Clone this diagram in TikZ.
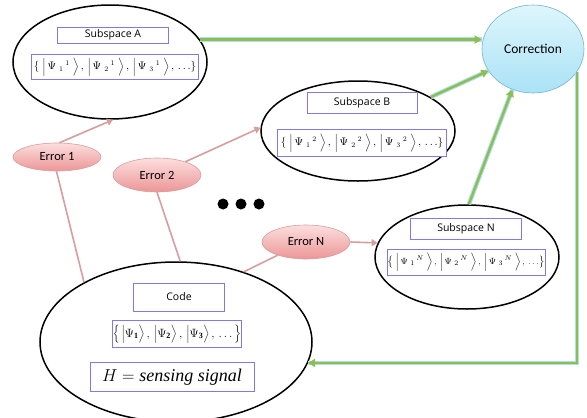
\documentclass[tikz,border=0pt]{standalone}
\usepackage{fontspec}
\setmainfont{Liberation Serif}
\newfontfamily\labelfont{Carlito}
\newfontfamily\boxfont{Open Sans}
\usetikzlibrary{shapes.geometric,arrows.meta}

\definecolor{errpinkTop}{RGB}{252,222,222}
\definecolor{errpinkBot}{RGB}{236,150,150}
\definecolor{errline}{RGB}{214,158,158}
\definecolor{corrTop}{RGB}{222,246,252}
\definecolor{corrBot}{RGB}{170,226,246}
\definecolor{corrline}{RGB}{120,180,200}
\definecolor{flowgreen}{RGB}{140,190,80}
\definecolor{flowglow}{RGB}{175,222,240}
\definecolor{boxline}{RGB}{130,120,230}

\tikzset{
  space/.style={ellipse, draw=black, line width=1.5pt, fill=white, inner sep=0pt},
  errnode/.style={ellipse, draw=errline, line width=0.6pt, top color=errpinkTop,
    bottom color=errpinkBot, inner sep=0pt, font=\labelfont\fontsize{12.5}{14}\selectfont},
  corrnode/.style={ellipse, draw=corrline, line width=0.6pt, top color=corrTop,
    bottom color=corrBot, inner sep=0pt, font=\labelfont\fontsize{13.5}{15}\selectfont},
  labelbox/.style={rectangle, draw=boxline, line width=0.8pt, fill=white, inner sep=0pt,
    font=\boxfont\fontsize{10.5}{12}\selectfont},
  ketbox/.style={rectangle, draw=boxline, line width=0.8pt, fill=white, inner sep=0pt,
    font=\fontsize{10.5}{13}\selectfont},
  errlink/.style={draw=errline, line width=1.6pt},
  errarrow/.style={errlink, -{Triangle[length=6pt,width=7pt]}},
  flow/.style={draw=flowgreen, line width=2.4pt, -{Triangle[length=7pt,width=8pt]},
    preaction={draw=flowglow, line width=4.6pt, -{}}},
  bigdot/.style={circle, fill=black, inner sep=0pt, minimum size=11pt},
}

% one ket of a subspace basis: |Psi_i^k>, index and level written side by side
\newcommand{\subket}[2]{\Bigl|\,\Psi\;{}_{#1}\,{}^{#2}\;\Bigr\rangle\,}
\newcommand{\ketset}[1]{$\bigl\{\;\subket{1}{#1},\,\subket{2}{#1},\,\subket{3}{#1},\,\ldots\bigr\}$}
% one ket of the code basis
\newcommand{\codeket}[1]{\Bigl|\Psi_{\mathbf{#1}}\Bigr\rangle\,}

\begin{document}
\begin{tikzpicture}[x=1pt, y=-1pt]
\useasboundingbox (0,0) rectangle (587,418);
\fill[white] (0,0) rectangle (587,418);

\begin{scope}
\clip (0,0) rectangle (587,418);
% code space
\node[space, minimum width=272pt, minimum height=160pt] (code) at (176,342) {};
\end{scope}
\node[labelbox, minimum width=91pt, minimum height=28pt] (codelbl) at (179,297) {Code};
\node[ketbox, minimum width=129pt, minimum height=27pt, font=\fontsize{11.5}{14}\selectfont] (codeket) at (177,334)
  {$\Bigl\{\,\codeket{1},\,\codeket{2},\,\codeket{3},\,\ldots\,\Bigr\}$};
\node[ketbox, minimum width=164pt, minimum height=29pt, font=\fontsize{18}{20}\selectfont] (ham) at (172,377)
  {$H=\mathit{sensing\ signal}$};

% subspaces
\node[space, minimum width=194pt, minimum height=114pt] (subA) at (110,62) {};
\node[labelbox, minimum width=111pt, minimum height=16pt] (lblA) at (113,35) {Subspace A};
\node[ketbox, minimum width=167pt, minimum height=25pt] (ketA) at (115,67) {\ketset{1}};

\node[space, minimum width=194pt, minimum height=100pt] (subB) at (358,131) {};
\node[labelbox, minimum width=110pt, minimum height=21pt] (lblB) at (362,103) {Subspace B};
\node[ketbox, minimum width=169pt, minimum height=27pt] (ketB) at (362,143) {\ketset{2}};

\node[space, minimum width=184pt, minimum height=104pt] (subN) at (467,257) {};
\node[labelbox, minimum width=111pt, minimum height=21pt] (lblN) at (466,229) {Subspace N};
\node[ketbox, minimum width=158pt, minimum height=26pt, font=\fontsize{9.5}{12}\selectfont] (ketN) at (466,262) {\ketset{N}};

% correction
\node[corrnode, minimum width=102pt, minimum height=88pt] (corr) at (533,49) {Correction};

% errors
\node[errnode, minimum width=88pt, minimum height=28pt] (err1) at (57,157) {Error 1};
\node[errnode, minimum width=88pt, minimum height=34pt] (err2) at (157,175) {Error 2};
\node[errnode, minimum width=88pt, minimum height=34pt] (errN) at (306,242) {Error N};

% ellipsis dots
\node[bigdot] (dot1) at (223,204) {};
\node[bigdot] (dot2) at (241,204) {};
\node[bigdot] (dot3) at (259,204) {};

% error links
\draw[errarrow] (err1.80) -- (subA.-87);
\draw[errarrow] (err2.25) -- (subB.178);
\draw[errarrow] (errN.east) -- (subN.171);
\draw[errlink] (err1.-92) -- (code.147);
\draw[errlink] (err2.south) -- (code.87);
\draw[errlink] (errN.205) -- (code.46);

% flows to and from correction
\draw[flow] (subA.14) -- (subA.14 -| corr.west);
\draw[flow] (subB.25) -- (corr.206);
\draw[flow] (subN.88) -- (corr.243);
\draw[flow] (corr.-27) |- (code.-9);
\end{tikzpicture}
\end{document}
